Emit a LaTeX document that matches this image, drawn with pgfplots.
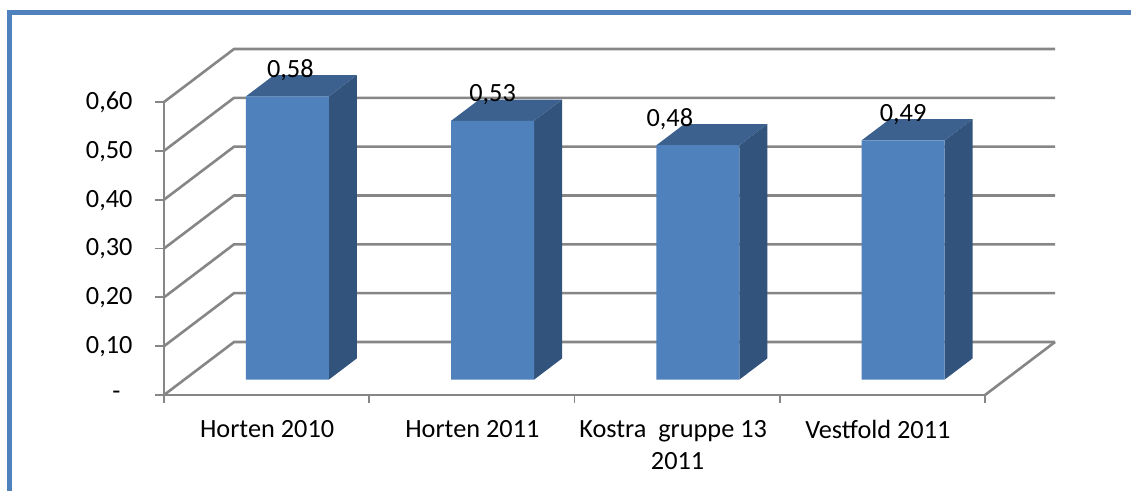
\documentclass[border=0pt]{standalone}
\usepackage{pgfplots}
\usepackage{fontspec}
\setmainfont{Carlito}
\pgfplotsset{compat=1.18}
\definecolor{barfront}{HTML}{4F81BD}
\definecolor{bartop}{HTML}{3C618F}
\definecolor{barside}{HTML}{32547C}
\definecolor{gridgray}{HTML}{868686}
\newcommand{\chartfont}{\fontsize{26.3}{32}\selectfont}
% wall lines: along the left wall, then along the back wall
\newcommand{\wallline}[1]{%
  \addplot3[gridgray, line width=2.6pt, line join=miter] coordinates {(0,0,#1) (0,1,#1) (4,1,#1)};
  \addplot3[gridgray, line width=1.8pt] coordinates {(-0.044,0,#1) (0,0,#1)};
}
\newcommand{\xtickmark}[1]{\addplot3[gridgray, line width=1.8pt] coordinates {(#1,0,-0.0164) (#1,0,0)};}
% one bar: left x, right x, value, label, label shift
\newcommand{\drawbar}[5]{%
  \addplot3[fill=barside, draw=none] coordinates {(#2,0.29,0) (#2,0.69,0) (#2,0.69,#3) (#2,0.29,#3) (#2,0.29,0)};
  \addplot3[fill=bartop, draw=none] coordinates {(#1,0.29,#3) (#2,0.29,#3) (#2,0.69,#3) (#1,0.69,#3) (#1,0.29,#3)};
  \addplot3[fill=barfront, draw=none] coordinates {(#1,0.29,0) (#2,0.29,0) (#2,0.29,#3) (#1,0.29,#3) (#1,0.29,0)};
  \addplot3[only marks, mark=none, point meta=z, nodes near coords={#4},
    every node near coord/.style={anchor=center, xshift=#5, yshift=26pt, font=\chartfont}]
    coordinates {(#1+0.202,0.29,#3)};
}
\begin{document}
\begin{tikzpicture}
  \useasboundingbox (0,0) rectangle (1131pt,491pt);
  \fill[white] (0,0) rectangle (1131pt,491pt);
  \draw[barfront, line width=5pt] (9.2pt,0) -- (9.2pt,478.5pt) -- (1131pt,478.5pt);
  \begin{axis}[
      at={(164pt,96pt)},
      anchor=origin,
      x={(205.25pt,0pt)},
      y={(70pt,53pt)},
      z={(0pt,488.3pt)},
      xmin=0, xmax=4,
      ymin=0, ymax=1,
      zmin=0, zmax=0.6,
      axis x line=left,
      axis z line=left,
      axis y line=none,
      axis line style={gridgray, line width=2.6pt, -},
      major tick length=0pt,
      xtick={0,1,2,3,4},
      x tick label as interval,
      xticklabels={Horten 2010, Horten 2011, {Kostra\ \ gruppe 13\hspace*{9pt}\\2011}, Vestfold 2011\hspace*{10pt}},
      x tick label style={font=\chartfont, align=center, anchor=north, xshift=0.5pt, yshift=-22pt},
      ztick={0,0.1,0.2,0.3,0.4,0.5,0.6},
      zticklabels={-\hspace*{12pt},{0,10},{0,20},{0,30},{0,40},{0,50},{0,60}},
      z tick label style={font=\chartfont, anchor=east, xshift=-28pt, yshift=-0.5pt},
      ytick=\empty,
      clip=false,
    ]
    \wallline{0}
    \wallline{0.1}
    \wallline{0.2}
    \wallline{0.3}
    \wallline{0.4}
    \wallline{0.5}
    \wallline{0.6}
    \addplot3[gridgray, line width=2.6pt] coordinates {(4,1,0) (4,0,0)};
    \xtickmark{0}
    \xtickmark{1}
    \xtickmark{2}
    \xtickmark{3}
    \xtickmark{4}
    \drawbar{0.300}{0.704}{0.58}{{0,58}}{3pt}
    \drawbar{1.300}{1.704}{0.53}{{0,53}}{0pt}
    \drawbar{2.300}{2.704}{0.48}{{0,48}}{-28pt}
    \drawbar{3.300}{3.704}{0.49}{{0,49}}{0pt}
  \end{axis}
\end{tikzpicture}
\end{document}
